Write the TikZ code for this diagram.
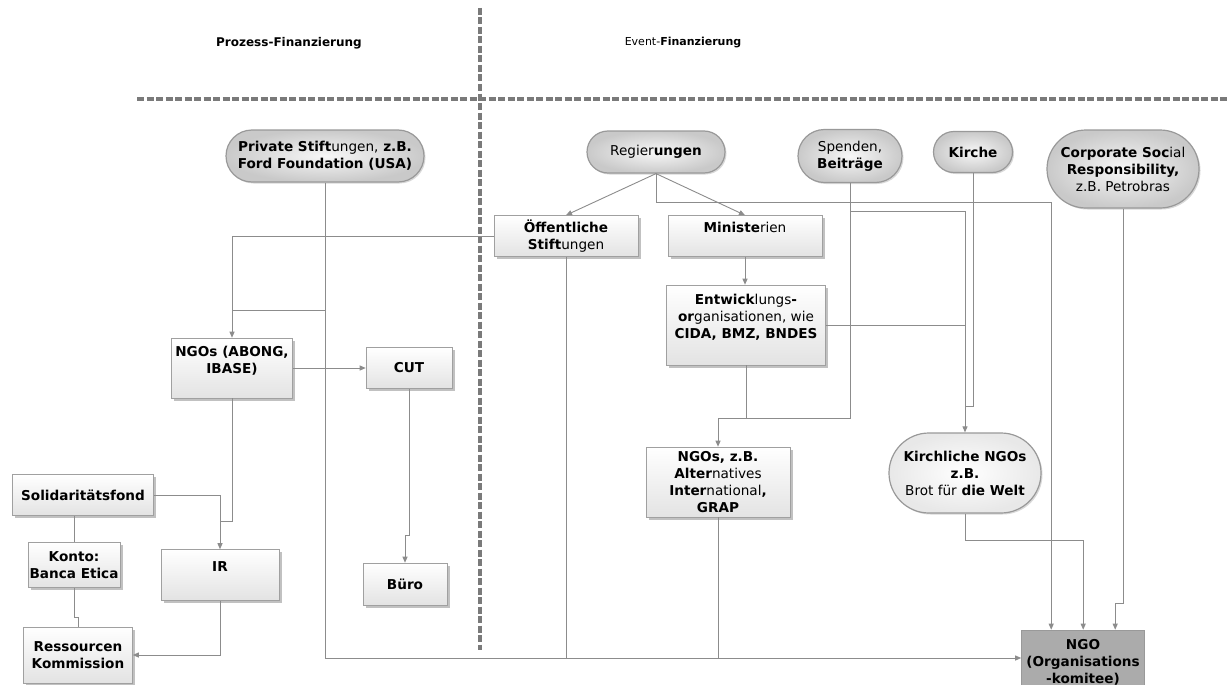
\documentclass[tikz,border=0pt]{standalone}
\usepackage{fontspec}
\setmainfont{DejaVu Sans}
\usetikzlibrary{shapes.misc,shadows,arrows.meta}
\definecolor{lc}{HTML}{8C8C8C}
\definecolor{bd}{HTML}{A0A0A0}
\definecolor{dashc}{HTML}{7A7A7A}
\definecolor{ngofill}{HTML}{ABABAB}
\newcommand\mynodefont{\fontsize{13.6}{17}\selectfont\bfseries}
\newcommand\rg[1]{{\mdseries #1}}
\begin{document}
\begin{tikzpicture}[x=1pt,y=-1pt,
  conn/.style={draw=lc, line width=0.9pt},
  arr/.style={conn, -{Triangle[length=6pt,width=5pt]}},
  divider/.style={draw=dashc, line width=3.4pt, dash pattern=on 7pt off 2.5pt},
  title/.style={font=\fontsize{12}{14}\selectfont, inner sep=0pt},
  box/.style={rectangle, draw=bd, line width=0.6pt, top color=white, bottom color=gray!22,
    drop shadow={shadow xshift=2.5pt, shadow yshift=-2.5pt, fill=gray!60, opacity=0.8},
    align=center, font=\mynodefont, inner sep=1pt},
  pill/.style={rounded rectangle, draw=gray!80, line width=1.2pt, inner color=gray!6, outer color=gray!42,
    drop shadow={shadow xshift=1.5pt, shadow yshift=-1.5pt, fill=gray!50, opacity=0.6},
    align=center, font=\mynodefont, inner sep=1pt},
  wpill/.style={pill, inner color=white, outer color=gray!18},
  ngobox/.style={rectangle, draw=gray!80, line width=0.6pt, fill=ngofill, align=center, font=\mynodefont, inner sep=1pt}
]
\useasboundingbox[fill=white] (0,0) rectangle (1229,685);

% dividers
\draw[divider] (480,8) -- (480,650);
\draw[divider] (137,99) -- (1229,99);
\node[title] (t1) at (289,43) {\textbf{Prozess-Finanzierung}};
\node[title, font=\fontsize{11}{13}\selectfont] (t2) at (683,43) {Event-\textbf{Finanzierung}};

% nodes
\node[pill, minimum width=200, minimum height=52] (priv) at (325,156) {Private Stift\rg{ungen,} z.B.\\Ford Foundation (USA)};
\node[pill, minimum width=140, minimum height=42] (reg) at (656,152) {\rg{Regier}ungen};
\node[pill, minimum width=106, minimum height=53] (spen) at (850,156) {\rg{Spenden,}\\Beiträge};
\node[pill, minimum width=81, minimum height=41] (kir) at (973,152) {Kirche};
\node[pill, minimum width=154, minimum height=78] (csr) at (1123,169) {Corporate Soc\rg{ial}\\Responsibility,\\\rg{z.B. Petrobras}};
\node[box, minimum width=144, minimum height=41] (oeff) at (566,236) {Öffentliche\\Stift\rg{ungen}};
\node[box, minimum width=154, minimum height=41] (min) at (745,236) {Ministe\rg{rien}\\\mbox{}};
\node[box, minimum width=159, minimum height=80] (entw) at (746,325) {Entwick\rg{lungs}-\\or\rg{ganisationen, wie}\\CIDA, BMZ, BNDES\\\mbox{}};
\node[box, minimum width=121, minimum height=60] (ngoab) at (232,368) {NGOs (ABONG,\\IBASE)\\\mbox{}};
\node[box, minimum width=86, minimum height=41] (cut) at (409,368) {CUT};
\node[box, minimum width=141, minimum height=41] (sol) at (83,495) {Solidaritätsfond};
\node[box, minimum width=92, minimum height=45] (kon) at (74,565) {Konto:\\Banca Etica};
\node[box, minimum width=118, minimum height=51] (ir) at (220,575) {IR\\\mbox{}};
\node[box, minimum width=84, minimum height=42] (buero) at (405,584) {Büro};
\node[box, minimum width=109, minimum height=56] (res) at (78,655) {Ressourcen\\Kommission};
\node[box, minimum width=144, minimum height=70] (ngoz) at (718,482) {NGOs, z.B.\\Alter\rg{natives}\\Inter\rg{national},\\GRAP};
\node[wpill, minimum width=154, minimum height=80] (kngo) at (965,473) {Kirchliche NGOs\\z.B.\\\rg{Brot für} die Welt};
\node[ngobox, minimum width=123, minimum height=64] (ngo) at (1083,662) {NGO\\(Organisations\\-komitee)};

% connectors: Prozess side
\draw[arr] (oeff.west) -| (ngoab.north);
\draw[conn] (priv.south |- 0,310) -- (ngoab.north |- 0,310);
\draw[arr] (ngoab.east) -- (cut.west);
\draw[arr] (cut.south) -- (cut.south |- 0,535) -| (buero.north);
\draw[conn] (ngoab.south) -- (ngoab.south |- 0,521) -- (ir.north |- 0,521);
\draw[arr] (sol.east) -| (ir.north);
\draw[conn] (kon.north |- sol.south) -- (kon.north);
\draw[conn] (kon.south) -- (kon.south |- 0,617) -| (res.north);
\draw[arr] (ir.south) |- (res.east);

% connectors: Event side
\draw[arr] (reg.south) -- (oeff.north);
\draw[arr] (reg.south) -- (min.north);
\draw[arr] (min.south) -- (min.south |- entw.north);
\draw[arr] (reg.south) -- (reg.south |- 0,202) -| ([xshift=30pt]ngo.north west);
\draw[arr] (spen.south) -- (spen.south |- 0,418) -| (ngoz.north);
\draw[conn] (entw.south) -- (entw.south |- 0,418);
\draw[arr] (spen.south |- 0,211) -| (kngo.north);
\draw[conn] (entw.east) -- (entw.east -| kngo.north);
\draw[conn] (kir.south) -- (kir.south |- 0,406) -- (kngo.north |- 0,406);
\draw[arr] (kngo.south) -- (kngo.south |- 0,540) -| ([xshift=62pt]ngo.north west);
\draw[arr] (csr.south) -- (csr.south |- 0,603) -| ([xshift=94pt]ngo.north west);

% bottom collector line
\draw[arr] (priv.south) -- (priv.south |- 0,658) -- (ngo.west |- 0,658);
\draw[conn] (oeff.south) -- (oeff.south |- 0,658);
\draw[conn] (ngoz.south) -- (ngoz.south |- 0,658);
\end{tikzpicture}
\end{document}
